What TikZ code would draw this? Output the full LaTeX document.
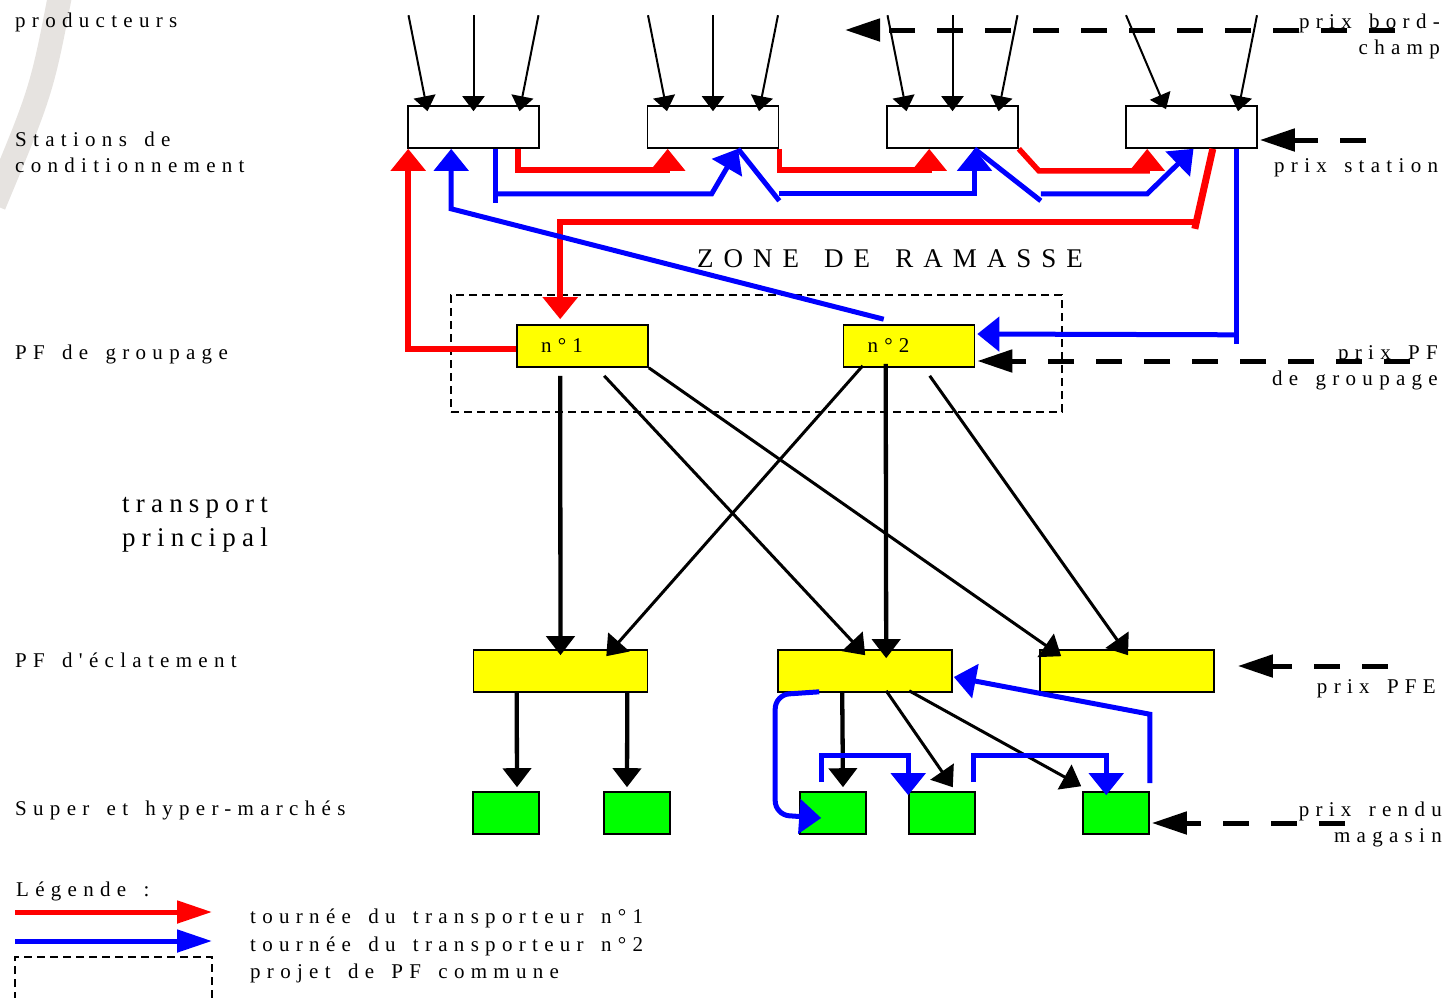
\documentclass[tikz,border=0pt]{standalone}
\usepackage{fontspec}
\setmainfont{Liberation Serif}
\newfontfamily\lblfont[LetterSpace=30,WordSpace=1.5,Ligatures=TeXOff]{Liberation Serif}
\newfontfamily\bigfont[LetterSpace=23,WordSpace=1.5,Ligatures=TeXOff]{Liberation Serif}
\newfontfamily\zonefont[LetterSpace=37,WordSpace=1.5,Ligatures=TeXOff]{Liberation Serif}
\usetikzlibrary{arrows.meta,calc}
\definecolor{routered}{RGB}{255,0,0}
\definecolor{routeblue}{RGB}{0,0,255}
\definecolor{pfyellow}{RGB}{255,255,0}
\definecolor{maggreen}{RGB}{0,255,0}
\definecolor{smudge}{RGB}{230,227,224}

\tikzset{
  ptip/.tip={Triangle[length=15pt,width=22pt]},
  mtip/.tip={Triangle[length=19pt,width=28pt]},
  rtip/.tip={Triangle[length=22pt,width=34pt]},
  dtip/.tip={Triangle[length=35pt,width=22pt]},
  box/.style={draw=black,line width=1.6pt,inner sep=0pt},
  stationbox/.style={box,fill=white,minimum width=131pt,minimum height=42pt},
  pfgbox/.style={box,fill=pfyellow,minimum height=42pt,text width=83pt,
    inner xsep=24pt,align=left,font=\lblfont\fontsize{21}{26}\selectfont},
  pfebox/.style={box,fill=pfyellow,minimum width=174pt,minimum height=42pt},
  magbox/.style={box,fill=maggreen,minimum width=66pt,minimum height=42pt},
  projbox/.style={draw,dash pattern=on 8pt off 5pt,line width=1.3pt,
    minimum width=611pt,minimum height=117pt,inner sep=0pt},
  lbl/.style={inner sep=0pt,font=\lblfont\fontsize{21}{26}\selectfont},
  supply/.style={-ptip,line width=2pt},
  flow/.style={-mtip,line width=3pt},
  mainflow/.style={flow,line width=4.3pt},
  route1/.style={draw=routered,line width=5.5pt},
  route2/.style={draw=routeblue,line width=5pt},
  prixarrow/.style={-dtip,line width=5pt,dash pattern=on 26pt off 22pt},
}

\begin{document}
\begin{tikzpicture}[x=1pt,y=-1pt]
  \useasboundingbox (0,0) rectangle (1450,997);
  \draw[smudge,line width=24pt] (62,-15) .. controls (42,90) .. (-6,205);

  % stations, plates-formes, magasins
  \node[stationbox] (s1) at (473.5,127) {};
  \node[stationbox] (s2) at (713,127) {};
  \node[stationbox] (s3) at (952.5,127) {};
  \node[stationbox] (s4) at (1191.5,127) {};
  \node[projbox] (proj) at (756.5,353.5) {};
  \node[pfgbox] (g1) at (582.5,346) {n°1};
  \node[pfgbox] (g2) at (909,346) {n°2};
  \node[pfebox] (e1) at (560.5,671) {};
  \node[pfebox] (e2) at (865,671) {};
  \node[pfebox] (e3) at (1127,671) {};
  \node[magbox] (h1) at (506,813) {};
  \node[magbox] (h2) at (637,813) {};
  \node[magbox] (h3) at (833,813) {};
  \node[magbox] (h4) at (942,813) {};
  \node[magbox] (h5) at (1116,813) {};

  % producteurs
  \foreach \st in {s1,s2,s3}
    \foreach \a/\b in {-65/-46,0/0,65/46}
      \draw[supply] ($(\st.north)+(\a,-90)$) -- ($(\st.north)+(\b,6)$);
  \draw[supply] ($(s4.north)+(-65.5,-90)$) -- ($(s4.north)+(-25.5,4)$);
  \draw[supply] ($(s4.north)+(65.5,-90)$) -- ($(s4.north)+(46.5,6)$);

  % prix
  \coordinate (pbc) at (1395,30);
  \coordinate (pbcend) at (845,30);
  \draw[prixarrow] (pbc) -- (pbcend);
  \coordinate (pst) at (1366,140);
  \draw[prixarrow] (pst) -- ($(s4.east)+(2,13)$);
  \coordinate (ppf) at (1410,361);
  \draw[prixarrow] (ppf) -- ($(g2.east)+(2,15)$);
  \coordinate (ppfe) at (1388,666);
  \draw[prixarrow] (ppfe) -- ($(e3.east)+(23,-5)$);
  \coordinate (prm) at (1345,823);
  \draw[prixarrow] (prm) -- ($(h5.east)+(2,10)$);

  % tournee du transporteur 1
  \draw[route1,-rtip] ($(g1.west)+(0,3)$) -| ($(s1.south west)+(1,0)$);
  \draw[route1,-rtip] ($(s1.south east)+(-22,0)$) -- ++(0,21) -| ($(s2.south west)+(21,0)$);
  \draw[route1,-rtip] (s2.south east) -- ++(0,21) -| ($(s3.south west)+(43,0)$);
  \draw[route1,-rtip] (s3.south east) -- ++(20,22) -| ($(s4.south west)+(22,0)$);
  \draw[route1,line width=7pt] ($(s4.south east)+(-45,0)$) -- ++(-18,80);
  \draw[route1,-rtip] ($(s4.south east)+(-62,73)$) -| ($(g1.north west)+(44,-5)$);

  % tournee du transporteur 2
  \draw[route2,-rtip] ($(g2.north west)+(41,-5)$) -- ($(s1.south west)+(44,60)$)
    -- ($(s1.south west)+(44,0)$);
  \draw[route2] ($(s1.south west)+(88,0)$) -- ++(0,54);
  \draw[route2,-rtip] ($(s1.south west)+(88,45)$) -- ($(s2.south west)+(65,45)$)
    -- ($(s2.south)+(25,0)$);
  \draw[route2] ($(s2.south)+(25,0)$) -- ($(s2.south east)+(0,52)$);
  \draw[route2,-rtip] ($(s2.south east)+(0,45)$) -| ($(s3.south)+(22,0)$);
  \draw[route2] ($(s3.south)+(22,0)$) -- ($(s3.south east)+(22,52)$);
  \draw[route2,-rtip] ($(s3.south east)+(22,45)$) -- ($(s4.south west)+(22,45)$)
    -- ($(s4.south)+(2,0)$);
  \draw[route2] ($(s4.south east)+(-21,0)$) -- ++(0,195);
  \draw[route2,-rtip] ($(s4.south east)+(-21,186)$) -- ($(g2.east)+(2,-12)$);

  % transport principal
  \draw[mainflow] ($(g1.south west)+(44,8)$) -- ($(e1.north)+(0,6)$);
  \draw[flow] ($(g1.south west)+(88,8)$) -- ($(e2.north west)+(88,6)$);
  \draw[flow] (g1.south east) -- ($(e3.north west)+(22,7)$);
  \draw[flow] ($(g2.south west)+(20,-2)$) -- ($(e1.north east)+(-42,7)$);
  \draw[mainflow] ($(g2.south west)+(43,-4)$) -- ($(e2.north west)+(109,9)$);
  \draw[flow] ($(g2.south west)+(87,8)$) -- ($(e3.north)+(1,6)$);

  % livraison des magasins
  \draw[mainflow] ($(e1.south west)+(44,0)$) -- ($(h1.north)+(11,-4)$);
  \draw[mainflow] ($(e1.south east)+(-21,0)$) -- ($(h2.north)+(-10,-4)$);
  \draw[mainflow] ($(e2.south west)+(65,0)$) -- ($(h3.north)+(10,-4)$);
  \draw[flow] ($(e2.south west)+(109,-2)$) -- ($(h4.north east)+(-23,-4)$);
  \draw[flow] ($(e2.south west)+(132,-2)$) -- ($(h5.north west)+(-1,-5)$);
  \draw[route2,-rtip,rounded corners=14pt] ($(e2.south west)+(42,-1)$) -- ++(-44,3)
    -- ++(0,120) -- ($(h3.west)+(22,5)$);
  \draw[route2,-rtip] ($(h3.north west)+(22,-9)$) -- ++(0,-27) -| ($(h4.north west)+(0,4)$);
  \draw[route2,-rtip] ($(h4.north east)+(-2,-9)$) -- ++(0,-27) -| ($(h5.north west)+(24,4)$);
  \draw[route2,-rtip] ($(h5.north east)+(0,-8)$) -- ++(0,-69) -- ($(e2.east)+(1,6)$);

  % textes
  \node[lbl,anchor=base west] (lprod) at (15,27) {producteurs};
  \node[lbl,anchor=base west,align=left] (lstat) at (15,172) {Stations de\\conditionnement};
  \node[lbl,anchor=base west] (lpfg) at (15,359) {PF de groupage};
  \node[anchor=base west,align=left,inner sep=0pt,font=\bigfont\fontsize{27}{34}\selectfont]
    (ltrans) at (122,546) {transport\\principal};
  \node[lbl,anchor=base west] (lpfe) at (15,667) {PF d'éclatement};
  \node[lbl,anchor=base west] (lsup) at (15,815) {Super et hyper-marchés};
  \node[anchor=base,inner sep=0pt,font=\zonefont\fontsize{27}{32}\selectfont] (lzone)
    at (890,267) {ZONE DE RAMASSE};
  \node[lbl,anchor=base east,align=right] (lpbc) at (1440,54) {prix bord-\\champ};
  \node[lbl,anchor=base west] (lpst) at (1274,172) {prix station};
  \node[lbl,anchor=base east,align=right] (lppf) at (1438,385) {prix PF\\de groupage};
  \node[lbl,anchor=base east] (lppfe) at (1436,693) {prix PFE};
  \node[lbl,anchor=base east,align=right] (lprm) at (1442,842) {prix rendu\\magasin};

  % legende
  \node[lbl,anchor=base west] (lleg) at (16,896) {Légende :};
  \coordinate (leg1a) at (15,912);
  \coordinate (leg1b) at (212,912);
  \coordinate (leg2a) at (15,941);
  \coordinate (leg2b) at (212,941);
  \draw[route1,line width=5pt,-dtip] (leg1a) -- (leg1b);
  \draw[route2,-dtip] (leg2a) -- (leg2b);
  \draw[dash pattern=on 8pt off 5pt,line width=1.6pt] (15,1000) |- (212,957) -- (212,1000);
  \node[lbl,anchor=base west] (lt1) at (250,923) {tournée du transporteur n°1};
  \node[lbl,anchor=base west] (lt2) at (250,951) {tournée du transporteur n°2};
  \node[lbl,anchor=base west] (lt3) at (250,978) {projet de PF commune};
\end{tikzpicture}
\end{document}
